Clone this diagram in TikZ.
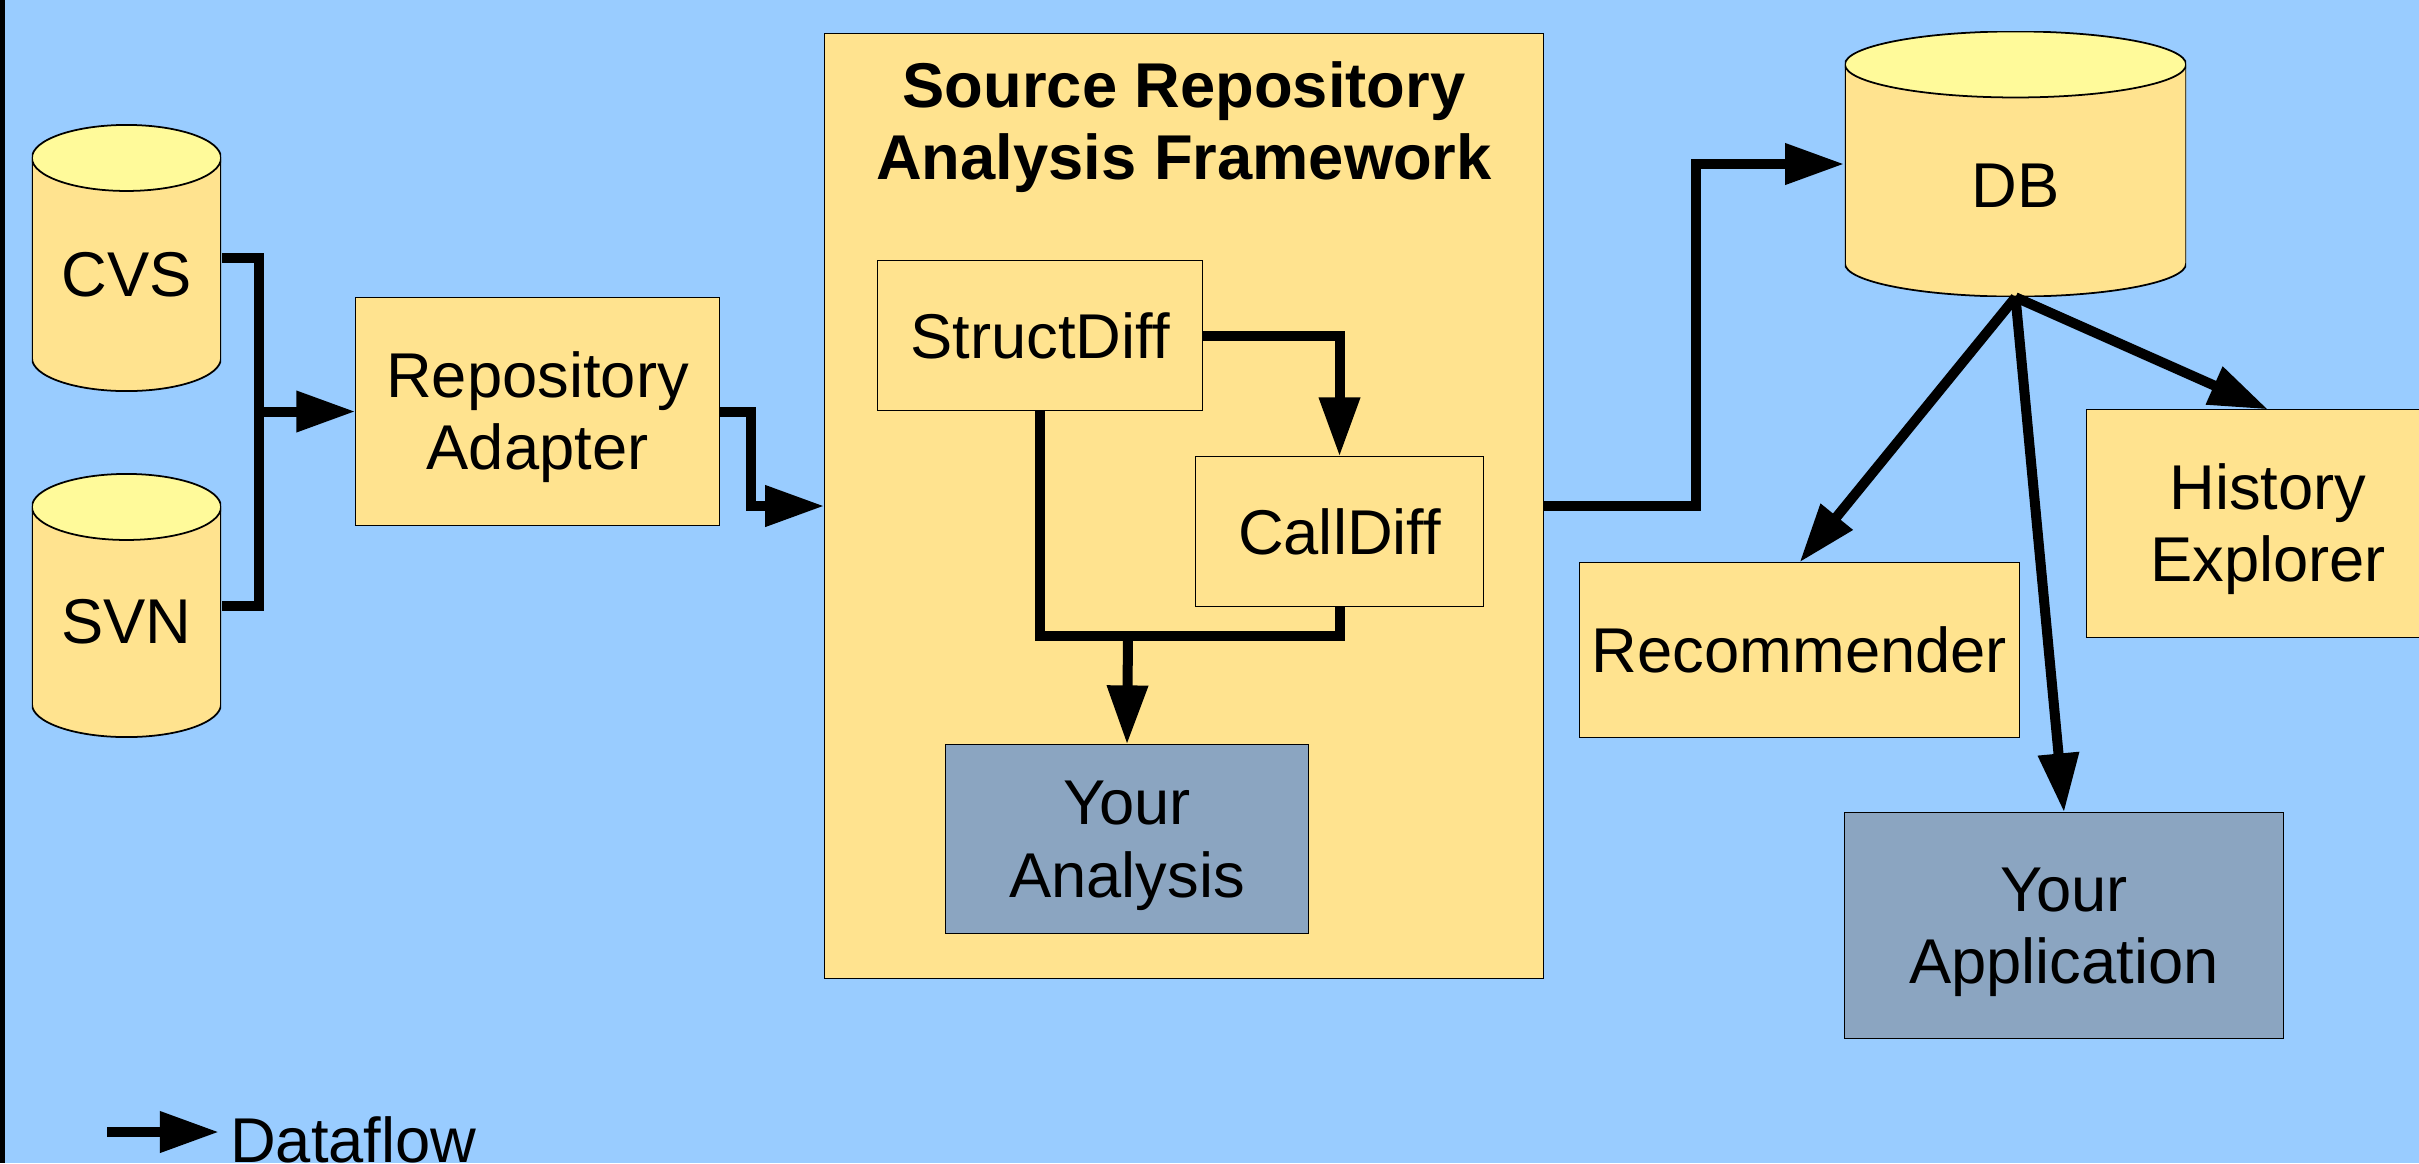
\documentclass[tikz,border=0pt]{standalone}
\usepackage{fontspec}
\setmainfont{Liberation Sans}
\usetikzlibrary{arrows.meta}
\definecolor{bgblue}{HTML}{99CCFF}
\definecolor{boxfill}{HTML}{FFE38F}
\definecolor{dbtop}{HTML}{FFFA9A}
\definecolor{ownfill}{HTML}{8BA5C1}
\begin{document}
\begin{tikzpicture}[x=0.01cm, y=-0.01cm,
        font=\fontsize{18}{20.5}\selectfont,
        box/.style={draw, line width=0.3pt, fill=boxfill, align=center, inner sep=0pt},
        own/.style={box, fill=ownfill},
        twoline/.style={text height=36.8pt, text depth=3.8pt},
        store/.style={rectangle, fill=bgblue, inner sep=0pt, minimum width=2*#1cm,
            path picture={
                \filldraw[fill=boxfill, line width=0.5pt] ([yshift=-3.3mm]path picture bounding box.north west) -- ([yshift=3.3mm]path picture bounding box.south west) arc[start angle=180, end angle=360, x radius=#1cm, y radius=3.3mm] -- ([yshift=-3.3mm]path picture bounding box.north east) -- cycle;
                \filldraw[fill=dbtop, line width=0.5pt] ([yshift=-3.3mm]path picture bounding box.north) ellipse[x radius=#1cm, y radius=3.3mm];
            }},
        wire/.style={line width=0.1cm},
        flow/.style={wire, -{Triangle[length=0.59cm, width=0.39cm]}}]
        \fill[bgblue] (0, 0) rectangle (2419, 1163);
        \useasboundingbox (0, 0) rectangle (2419, 1163);
        \fill[black] (0, 0) rectangle (5, 1163);
        \node[store=0.945, minimum height=2.66cm, text height=21.9pt] (cvs) at (126.5, 258) {CVS};
        \node[store=0.945, minimum height=2.63cm, text height=21.9pt] (svn) at (126.5, 605.5) {SVN};
        \node[box, twoline, minimum width=3.63cm, minimum height=2.27cm] (ra) at (537.5, 411.5) {Repository\\Adapter};
        \node[box, minimum width=7.18cm, minimum height=9.44cm] (frame) at (1184, 506) {};
        \node[font=\fontsize{18}{20.5}\selectfont\bfseries, align=center] (title) at (1184, 127) {Source Repository\\Analysis Framework};
        \node[box, minimum width=3.24cm, minimum height=1.49cm] (sd) at (1040, 335.5) {StructDiff};
        \node[box, minimum width=2.87cm, minimum height=1.49cm] (cd) at (1339.5, 531.5) {CallDiff};
        \node[own, twoline, minimum width=3.62cm, minimum height=1.88cm] (ya) at (1127, 839) {Your\\Analysis};
        \node[store=1.705, minimum height=2.65cm, text height=24.9pt] (db) at (2015.5, 164) {DB};
        \node[box, minimum width=4.39cm, minimum height=1.74cm] (rec) at (1799.5, 650) {Recommender};
        \node[box, twoline, minimum width=3.62cm, minimum height=2.27cm] (hist) at (2268, 523.5) {History\\Explorer};
        \node[own, twoline, minimum width=4.38cm, minimum height=2.25cm] (yapp) at (2064, 925.5) {Your\\Application};
        \coordinate (bus) at (259, 411.5);
        \coordinate (merge) at (1128, 636);
        \draw[wire] (cvs.east) -| (bus) |- (svn.east);
        \draw[flow] (bus) -- (ra.west);
        \draw[flow] (ra.east) -- ++(31, 0) |- (frame.west);
        \draw[flow] (sd.east) -| (cd.north);
        \draw[wire] (sd.south) |- (merge) -| (cd.south);
        \draw[flow] (merge) -- (ya.north);
        \draw[flow] (frame.east) -- ++(152, 0) |- (db.west);
        \draw[flow] (db.south) -- (rec.north);
        \draw[flow] (db.south) -- (yapp.north);
        \draw[flow] (db.south) -- (hist.north);
        \coordinate (lgtail) at (107, 1132);
        \node[anchor=base west, inner sep=3pt] (legend) at (219, 1162) {Dataflow};
        \draw[flow] (lgtail) -- (lgtail -| legend.west);
    \end{tikzpicture}
\end{document}
